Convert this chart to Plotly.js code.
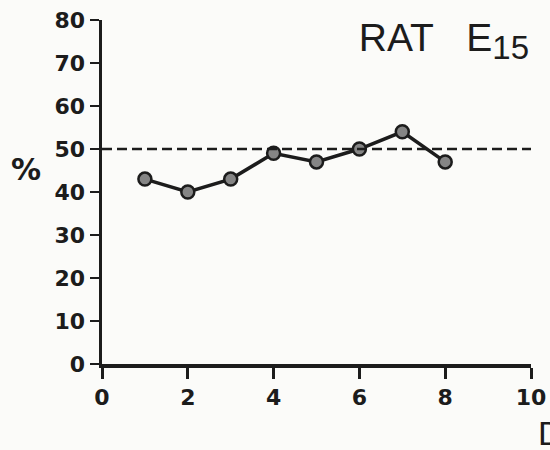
<!DOCTYPE html>
<html>
<head>
<meta charset="utf-8">
<script src="https://cdn.plot.ly/plotly-3.0.1.min.js"></script>
<style>
  html, body { margin: 0; padding: 0; background: #fbfbf9; }
  #chart { width: 550px; height: 450px; }
</style>
</head>
<body>
<div id="chart"></div>
<script>
const days = [1, 2, 3, 4, 5, 6, 7, 8];
const percent = [43, 40, 43, 49, 47, 50, 54, 47];
const referenceLevel = [50];
const xTicks = [0, 2, 4, 6, 8, 10];
const yTicks = [0, 10, 20, 30, 40, 50, 60, 70, 80];

const ink = '#1c1c1c';
const tickFont = { family: 'DejaVu Sans', size: 22, color: ink, weight: 'bold' };

const traces = [{
  x: days,
  y: percent,
  type: 'scatter',
  mode: 'lines+markers',
  line: { color: ink, width: 3.5 },
  marker: { size: 13, color: '#858585', line: { color: ink, width: 2.5 } },
  showlegend: false,
  hoverinfo: 'skip'
}];

const layout = {
  width: 550,
  height: 450,
  paper_bgcolor: '#fbfbf9',
  plot_bgcolor: '#fbfbf9',
  margin: { l: 102, r: 19, t: 20, b: 86 },
  showlegend: false,
  title: {
    text: 'RAT\u00a0\u00a0\u00a0E<sub><span style="font-size:33px">15</span></sub>',
    font: { family: 'Liberation Sans, Arial, sans-serif', size: 39, color: ink },
    xref: 'paper', x: 0.797, xanchor: 'center',
    yref: 'container', y: 0.918, yanchor: 'middle'
  },
  xaxis: {
    range: [0, 10],
    tickvals: xTicks,
    ticktext: xTicks.map(String),
    showgrid: false, zeroline: false,
    showline: true, linecolor: ink, linewidth: 3.5,
    ticks: 'outside', ticklen: 11, tickwidth: 3, tickcolor: ink,
    tickfont: tickFont,
    fixedrange: true
  },
  yaxis: {
    range: [0, 80],
    tickvals: yTicks,
    ticktext: yTicks.map(String),
    showgrid: false, zeroline: false,
    showline: true, linecolor: ink, linewidth: 3.5,
    ticks: 'outside', ticklen: 9, tickwidth: 2.5, tickcolor: ink,
    tickfont: tickFont,
    ticklabelstandoff: 0,
    fixedrange: true
  },
  shapes: [{
    type: 'line', xref: 'paper', yref: 'y',
    x0: 0, x1: 1, y0: referenceLevel[0], y1: referenceLevel[0],
    line: { color: ink, width: 2.5, dash: '10px,5px' }
  }],
  annotations: [
    {
      text: '%', xref: 'paper', yref: 'paper',
      x: -0.178, y: 0.565, xanchor: 'center', yanchor: 'middle',
      showarrow: false,
      font: { family: 'DejaVu Sans', size: 30, color: ink, weight: 'bold' }
    },
    {
      text: 'D', xref: 'paper', yref: 'paper',
      x: 1.012, y: -0.2, xanchor: 'left', yanchor: 'middle',
      showarrow: false,
      font: { family: 'Liberation Sans, Arial, sans-serif', size: 34, color: ink }
    }
  ]
};

Plotly.newPlot('chart', traces, layout, { displayModeBar: false, staticPlot: true });
</script>
</body>
</html>
